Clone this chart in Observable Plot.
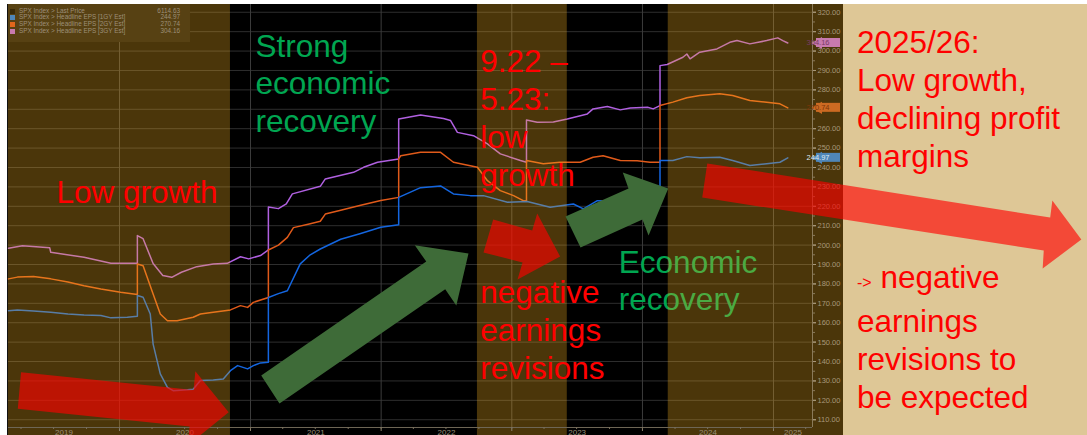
<!DOCTYPE html>
<html><head><meta charset="utf-8">
<script src="https://cdn.jsdelivr.net/npm/d3@7"></script>
<script src="https://cdn.jsdelivr.net/npm/@observablehq/plot@0.6"></script>
<style>
body{margin:0;background:#fff;}
#wrap{position:relative;width:1087px;height:435px;overflow:hidden;background:#fff;font-family:"Liberation Sans",Arial,sans-serif;}
#chartbg{position:absolute;left:8px;top:4px;width:804px;height:431px;background:#000;}
#axisbg{position:absolute;left:812px;top:4px;width:31px;height:431px;background:#4b360a;}
#edge{position:absolute;left:7px;top:4px;width:1px;height:431px;background:#111;}
#panel{position:absolute;left:843px;top:4px;width:244px;height:431px;background:#dec796;}
#plot{position:absolute;left:0;top:0;}
#legend{position:absolute;left:8px;top:4px;width:182px;height:38px;background:#574113;font-size:6.4px;color:#9d9079;padding-top:3.5px;box-sizing:border-box;}
.lrow{position:relative;height:6.7px;line-height:6.7px;white-space:nowrap;}
.sw{position:absolute;left:2px;top:1px;width:5px;height:5px;}
.lt{position:absolute;left:11px;}
.lv{position:absolute;right:10px;}
.note{position:absolute;left:857px;font-size:31.5px;line-height:38px;color:#ff0000;white-space:nowrap;}
</style></head>
<body>
<div id="wrap">
  <div id="chartbg"></div>
  <div id="axisbg"></div>
  <div id="panel"></div>
  <div id="edge"></div>
  <div id="plot"></div>
  <div id="legend"></div>
  <div class="note" style="top:23px">2025/26:<br>Low growth,<br>declining profit<br>margins</div>
  <div class="note" style="top:258px"><span style="font-size:16px">-&gt;</span> negative<br>earnings<br>revisions to<br>be expected</div>
</div>
<script>
// ---------- data ----------
const xStart = "2019-02-25", xEnd = "2025-04-20";
const yLow = 106, yHigh = 324;

const seriesNames = ["SPX Index > Last Price", "SPX Index > Headline EPS [1GY Est]", "SPX Index > Headline EPS [2GY Est]", "SPX Index > Headline EPS [3GY Est]"];
const lastPrice = 6114.63;

const eps1GY = [["2019-02-25",166.2],["2019-03-22",166.6],["2019-05-06",166.0],["2019-06-23",165.4],["2019-08-10",164.5],["2019-09-24",164.0],["2019-11-10",163.7],["2019-12-08",162.5],["2020-01-23",162.8],["2020-02-20",163.3],["2020-02-20",174.0],["2020-03-07",173.1],["2020-03-27",164.5],["2020-04-04",149.0],["2020-04-24",133.6],["2020-05-14",126.7],["2020-05-30",125.0],["2020-07-09",125.4],["2020-07-25",125.7],["2020-08-14",130.2],["2020-09-19",130.5],["2020-10-17",131.0],["2020-11-06",135.3],["2020-11-26",137.9],["2020-12-24",136.2],["2021-01-09",137.9],["2021-01-29",139.3],["2021-02-20",139.6],["2021-02-20",173.0],["2021-03-20",175.0],["2021-04-14",176.5],["2021-05-20",190.3],["2021-06-17",195.0],["2021-07-15",198.0],["2021-09-10",203.0],["2021-11-05",206.0],["2021-12-31",209.2],["2022-02-19",210.5],["2022-02-19",224.6],["2022-04-21",229.6],["2022-06-16",230.5],["2022-07-22",226.4],["2022-09-07",225.5],["2022-10-14",225.5],["2022-12-20",222.1],["2023-02-13",222.5],["2023-04-18",219.5],["2023-06-22",221.2],["2023-07-20",218.7],["2023-08-28",222.9],["2023-10-31",222.5],["2024-01-31",222.5],["2024-02-19",223.5],["2024-02-19",243.6],["2024-03-26",243.6],["2024-05-04",245.6],["2024-06-09",245.0],["2024-08-04",245.3],["2024-09-09",243.6],["2024-10-27",241.0],["2024-12-13",241.9],["2025-01-19",242.7],["2025-02-10",244.97]];

const eps2GY = [["2019-02-25",182.6],["2019-03-22",183.5],["2019-05-06",183.8],["2019-06-23",182.6],["2019-08-10",181.0],["2019-09-24",179.1],["2019-11-10",177.4],["2020-01-04",175.7],["2020-02-20",174.5],["2020-02-20",190.3],["2020-03-07",189.4],["2020-04-04",174.8],["2020-04-24",164.5],["2020-05-14",161.0],["2020-06-10",161.0],["2020-07-25",162.8],["2020-08-14",164.5],["2020-09-19",165.4],["2020-11-06",166.6],["2020-12-04",168.8],["2020-12-24",167.9],["2021-01-09",170.5],["2021-02-20",173.0],["2021-02-20",197.5],["2021-03-20",200.0],["2021-04-14",204.0],["2021-05-01",209.0],["2021-06-17",211.0],["2021-07-15",212.3],["2021-07-29",216.0],["2021-09-10",218.0],["2021-11-05",220.5],["2021-12-31",223.0],["2022-02-19",224.6],["2022-02-19",244.4],["2022-02-25",246.1],["2022-04-21",247.8],["2022-06-16",247.8],["2022-07-22",242.7],["2022-09-27",240.1],["2022-10-25",233.2],["2022-11-30",228.1],["2023-01-06",225.5],["2023-02-02",222.9],["2023-02-11",222.9],["2023-02-11",243.6],["2023-03-30",241.9],["2023-05-16",242.7],["2023-07-11",242.7],["2023-08-16",245.3],["2023-09-13",246.1],["2023-10-31",243.6],["2023-12-17",243.5],["2024-01-22",242.7],["2024-02-19",242.7],["2024-02-19",271.9],["2024-03-26",273.7],["2024-05-04",275.9],["2024-06-09",277.1],["2024-08-04",278.0],["2024-09-09",277.1],["2024-10-27",274.5],["2024-12-13",273.6],["2025-01-19",272.8],["2025-02-10",270.74]];

const eps3GY = [["2019-02-25",198.4],["2019-04-05",199.7],["2019-06-20",198.7],["2019-06-23",196.3],["2019-09-24",193.7],["2019-12-08",190.6],["2020-02-20",190.6],["2020-02-20",204.9],["2020-03-07",203.3],["2020-04-04",190.5],["2020-05-01",184.3],["2020-05-26",183.4],["2020-06-22",186.0],["2020-08-04",188.9],["2020-09-19",190.3],["2020-10-28",190.6],["2020-12-04",194.0],["2020-12-27",192.9],["2021-01-29",194.6],["2021-02-20",197.5],["2021-02-20",219.6],["2021-03-20",218.8],["2021-04-11",221.2],["2021-04-28",226.4],["2021-07-15",230.3],["2021-07-29",234.1],["2021-10-16",237.5],["2021-11-13",240.1],["2021-12-22",242.7],["2022-02-19",244.4],["2022-02-19",265.0],["2022-04-21",267.0],["2022-06-24",265.2],["2022-07-14",264.2],["2022-08-02",258.1],["2022-09-16",256.4],["2022-10-25",252.2],["2022-11-30",247.0],["2023-01-25",243.6],["2023-02-11",242.7],["2023-02-11",264.5],["2023-03-13",263.3],["2023-04-27",263.5],["2023-06-05",265.0],["2023-07-31",267.6],["2023-08-16",270.2],["2023-09-25",271.4],["2023-10-31",269.7],["2023-11-28",270.7],["2024-01-15",271.0],["2024-01-31",270.2],["2024-02-19",271.9],["2024-02-19",292.5],["2024-03-10",293.1],["2024-04-23",296.8],["2024-05-04",298.5],["2024-05-13",296.0],["2024-06-09",299.4],["2024-07-27",301.1],["2024-09-01",304.5],["2024-09-21",305.4],["2024-10-27",303.7],["2024-12-13",305.4],["2025-01-13",306.8],["2025-01-27",305.4],["2025-02-10",304.16]];

const brownBands = [["2019-02-25","2020-11-06"],["2022-09-27","2023-06-05"],["2024-03-13","2025-04-20"]];
const yearStarts = ["2020-01-01","2021-01-01","2022-01-01","2023-01-01","2024-01-01","2025-01-01"];
const yearLabels = ["2019","2020","2021","2022","2023","2024","2025"];
const yTicks = d3.range(110, 321, 10);
const yMinorTicks = d3.range(115, 321, 10);

const greenNotes = [
  {text: "Strong\neconomic\nrecovery", date: "2021-01-15", value: 258.2},
  {text: "Economic\nrecovery", date: "2023-10-27", value: 166.3}
];
const redNotes = [
  {text: "Low growth", date: "2019-07-09", value: 221.6},
  {text: "9.22 –\n5.23:\nlow\ngrowth", date: "2022-10-05", value: 230.7},
  {text: "negative\nearnings\nrevisions", date: "2022-10-05", value: 131.1}
];

const arrowRed1 = [["2019-04-01",134.5],["2020-07-26",125.3],["2020-07-31",135.0],["2020-11-01",113.9],["2020-07-10",96.8],["2020-07-15",106.5],["2019-03-23",115.6]];
const arrowGreen1 = [["2021-01-31",132.8],["2022-05-07",191.5],["2022-04-05",199.9],["2022-09-02",195.7],["2022-07-30",168.9],["2022-06-29",177.3],["2021-03-23",118.4]];
const arrowRed2 = [["2022-11-10",213.2],["2023-02-27",207.5],["2023-03-13",216.3],["2023-05-16",194.1],["2023-01-17",182.3],["2023-01-31",191.0],["2022-10-14",196.2]];
const arrowGreen2 = [["2023-05-31",214.7],["2023-11-23",229.2],["2023-11-07",237.4],["2024-03-13",229.2],["2024-01-18",205.0],["2024-01-01",213.2],["2023-07-12",198.8]];
const arrowRed3 = [["2024-06-30",242.1],["2027-02-13",214.2],["2027-02-19",223.0],["2027-05-11",202.9],["2027-01-23",187.9],["2027-01-26",197.2],["2024-06-16",224.5]];

// ---------- build ----------
const parse = s => new Date(s + "T00:00:00Z");
const rows = arr => arr.map(([d, v]) => ({date: parse(d), value: v}));
const x0 = parse(xStart), x1 = parse(xEnd);
const FONT = "Liberation Sans";

const lineColors = {g1: "#1466e0", g2: "#e05a1a", g3: "#b060e0"};
const flags = [
  {value: eps3GY[eps3GY.length - 1][1], bg: "#c87aae", fg: "#7a3a66"},
  {value: eps2GY[eps2GY.length - 1][1], bg: "#cc6a22", fg: "#7e3608"},
  {value: eps1GY[eps1GY.length - 1][1], bg: "#4f86b8", fg: "#dde8f2"}
];
// tick labels hidden under a flag
const labelTicks = yTicks.filter(t => flags.every(f => Math.abs(f.value - t) > 3));

const yearMid = yearLabels.map(y => {
  const a = Math.max(+parse(y + "-01-01"), +x0);
  const b = Math.min(+parse((+y + 1) + "-01-01"), +x1);
  return {label: y, date: new Date((a + b) / 2)};
});
const quarters = d3.utcMonth.every(3).range(x0, x1);
const noteOpts = {x: d => parse(d.date), y: "value", text: "text", textAnchor: "start", lineAnchor: "bottom",
  lineHeight: 1.2, fontSize: 31.5, fontFamily: FONT};
const poly = (arr, fill, opacity) => Plot.line(rows(arr), {x: "date", y: "value", curve: "linear-closed",
  fill, fillOpacity: opacity, stroke: "none"});

const chart = Plot.plot({
  width: 1087, height: 435,
  marginLeft: 8, marginRight: 275, marginTop: 4, marginBottom: 8,
  style: {background: "transparent", overflow: "visible"},
  x: {type: "utc", domain: [x0, x1]},
  y: {domain: [yLow, yHigh]},
  marks: [
    Plot.ruleY(yTicks, {stroke: "#2e2e2e"}),
    Plot.ruleX(yearStarts.map(parse), {stroke: "#3c3c3c"}),
    Plot.line(rows(eps3GY), {x: "date", y: "value", stroke: lineColors.g3, strokeWidth: 1.5}),
    Plot.line(rows(eps2GY), {x: "date", y: "value", stroke: lineColors.g2, strokeWidth: 1.5}),
    Plot.line(rows(eps1GY), {x: "date", y: "value", stroke: lineColors.g1, strokeWidth: 1.5}),
    Plot.text(greenNotes, {...noteOpts, fill: "#00a651"}),
    Plot.rect(brownBands, {x1: d => parse(d[0]), x2: d => parse(d[1]), y1: 100, y2: yHigh,
      fill: "rgb(250,180,33)", fillOpacity: 0.3}),
    // axes
    Plot.ruleY([yLow], {stroke: "#6e6656"}),
    Plot.ruleX([x1], {stroke: "#8a7a5a"}),
    Plot.axisX({ticks: yearStarts.map(parse), tickSize: 4, tickFormat: () => "", stroke: "#8a806c", label: null}),
    Plot.axisX({ticks: quarters, tickSize: 2, tickFormat: () => "", stroke: "#7a705c", label: null}),
    Plot.text(yearMid, {x: "date", text: "label", frameAnchor: "bottom", dy: 7, fontSize: 8, fontFamily: FONT, fill: "#9a8e78"}),
    Plot.axisY({anchor: "right", ticks: yMinorTicks, tickSize: 2, tickFormat: () => "", stroke: "#8a7a5a", label: null}),
    Plot.axisY({anchor: "right", ticks: yTicks, tickSize: 3, tickFormat: () => "", stroke: "#a8987a", label: null}),
    Plot.axisY({anchor: "right", ticks: labelTicks, tickSize: 3, tickPadding: 2, tickFormat: d => d.toFixed(2),
      fontSize: 7.5, fontFamily: FONT, fill: "#a8987a", stroke: "#a8987a", label: null}),
    // last-value flags
    Plot.rect(flags, {x1: () => x1, x2: () => x1, y1: "value", y2: "value", insetLeft: 4, insetRight: -28,
      insetTop: -4.5, insetBottom: -4.5, fill: "bg"}),
    Plot.dot(flags, {y: "value", frameAnchor: "right", dx: 6, symbol: "triangle", rotate: -90, r: 4.5, fill: "bg", stroke: "none"}),
    Plot.text(flags, {y: "value", frameAnchor: "right", dx: 17, text: d => d.value.toFixed(2), fontSize: 7.5,
      fontFamily: FONT, fill: "fg"}),
    // arrows
    poly(arrowGreen1, "#3e6b38", 1),
    poly(arrowGreen2, "#3e6b38", 1),
    poly(arrowRed1, "#ff0000", 0.63),
    poly(arrowRed2, "#ff0000", 0.63),
    poly(arrowRed3, "#ff0000", 0.63),
    Plot.text(redNotes, {...noteOpts, fill: "#ff0000"})
  ]
});
document.getElementById("plot").appendChild(chart);

// legend
const legendValues = [lastPrice, flags[2].value, flags[1].value, flags[0].value];
const legendColors = ["#3a2a08", "#4f86b8", "#e0661c", "#c87aae"];
const leg = document.getElementById("legend");
seriesNames.forEach((name, i) => {
  const r = document.createElement("div");
  r.className = "lrow";
  r.innerHTML = `<span class="sw" style="background:${legendColors[i]}"></span><span class="lt"></span><span class="lv"></span>`;
  r.querySelector(".lt").textContent = name;
  r.querySelector(".lv").textContent = legendValues[i].toFixed(2);
  leg.appendChild(r);
});
</script>
</body></html>
